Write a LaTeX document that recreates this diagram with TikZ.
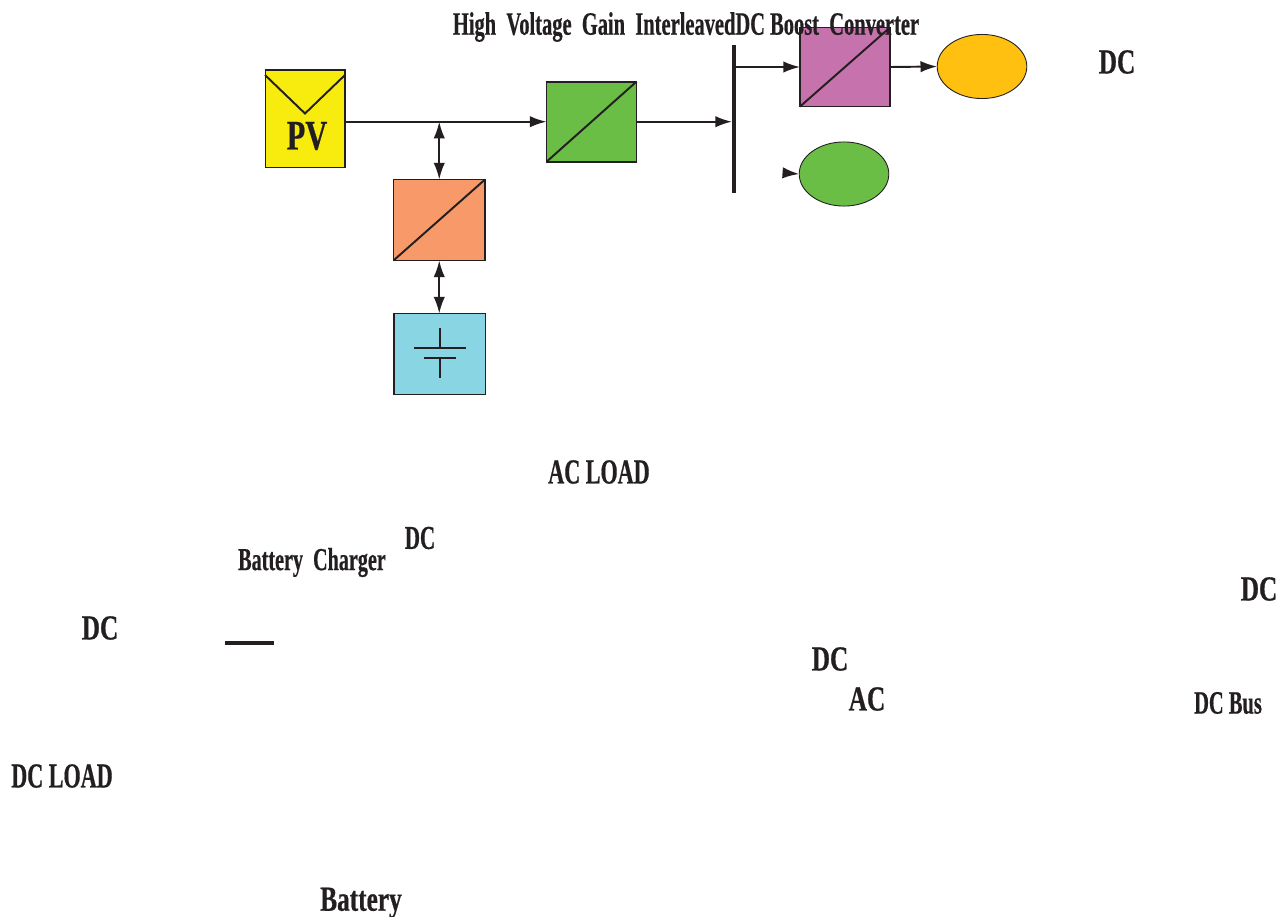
\documentclass[tikz,border=0pt]{standalone}
\usepackage{fontspec}
\setmainfont{Liberation Serif}[FakeStretch=0.72,BoldFeatures={FakeStretch=0.72,FakeBold=0.5}]
\newfontfamily\narrowface{Liberation Serif}[FakeStretch=0.63,BoldFeatures={FakeStretch=0.63,FakeBold=0.5}]
\usetikzlibrary{arrows.meta,shapes.geometric}
\definecolor{inkc}{HTML}{231F20}
\definecolor{pvyellow}{HTML}{F8EC0F}
\definecolor{boostgreen}{HTML}{6ABD45}
\definecolor{chgorange}{HTML}{F79969}
\definecolor{battblue}{HTML}{8AD5E3}
\definecolor{invpurple}{HTML}{C673AD}
\definecolor{dcamber}{HTML}{FFC010}
\tikzset{
  blockbox/.style={draw=inkc,line width=1.1pt,minimum width=#1,inner sep=0pt,outer sep=0pt},
  loadoval/.style={draw=inkc,line width=0.5pt,ellipse,minimum width=51pt,minimum height=36.5pt,inner sep=0pt,outer sep=0pt},
  lbl/.style={font=\fontsize{20}{22}\selectfont\bfseries,text=inkc,inner sep=0pt},
  narrowlbl/.style={font=\fontsize{#1}{22}\narrowface\selectfont\bfseries,text=inkc,inner sep=0pt},
  flow/.style={draw=inkc,line width=1.1pt,-{Latex[length=9.5pt,width=6.5pt]}},
  biflow/.style={draw=inkc,line width=1.1pt,{Latex[length=9.5pt,width=6.5pt]}-{Latex[length=9.5pt,width=6.5pt]}},
  thin line/.style={draw=inkc,line width=1.1pt}
}

\begin{document}
\begin{tikzpicture}[x=0.02cm,y=-0.02cm]
\useasboundingbox (0,0) rectangle (1281,916);

% blocks
\node[blockbox=45pt,minimum height=55.5pt,fill=pvyellow] (pv) at (305,118.75) {};
\node[blockbox=51.2pt,minimum height=45.6pt,fill=boostgreen] (boost) at (591.5,121.7) {};
\node[blockbox=52.1pt,minimum height=46.1pt,fill=chgorange] (charger) at (439.25,220) {};
\node[blockbox=52.1pt,minimum height=46.1pt,fill=battblue] (batt) at (439.75,354) {};
\node[blockbox=51.2pt,minimum height=45pt,fill=invpurple] (dcdc) at (845,67) {};
\node[fill=inkc,minimum width=2.3pt,minimum height=84.5pt,inner sep=0pt,outer sep=0pt] (bus) at (734,119) {};

% loads
\node[loadoval,fill=dcamber] (dcload) at (982,66.5) {};
\node[loadoval,fill=boostgreen] (acload) at (844,174) {};

% converter diagonals
\draw[thin line] (boost.south west) -- (boost.north east);
\draw[thin line] (charger.south west) -- (charger.north east);
\draw[thin line] (dcdc.south west) -- (dcdc.north east);

% pv panel
\draw[thin line] (265,75) -- (305,113.5) -- (345,75);
\node[lbl,font=\fontsize{24}{26}\selectfont\bfseries] (pvtext) at (307,136) {PV};

% battery symbol
\draw[thin line] (440,328) -- (440,348) (414,348) -- (466,348);
\draw[thin line] (424,358) -- (456,358) (440,358) -- (440,378);

% connectors
\coordinate (pvout) at (pv.east |- boost.west);
\coordinate (tap) at (charger.north |- boost.west);
\coordinate (acin) at (785,173);
\draw[flow] (pvout) -- (boost.west);
\draw[biflow] (tap) -- (charger.north);
\draw[biflow] (charger.south) -- (charger.south |- batt.north);
\draw[flow] (boost.east) -- (bus.west |- boost.east);
\draw[flow] (bus.east |- dcdc.west) -- (dcdc.west);
\draw[flow] (dcdc.east) -- (dcload.west);
\draw[flow] (acin) -- (acload.west);

% stray dash
\coordinate (dashl) at (225,643);
\coordinate (dashr) at (274,643);
\draw[draw=inkc,line width=2.3pt] (dashl) -- (dashr);

% labels
\node[narrowlbl=18.5] (title) at (686,27) {High\ \ Voltage\ \ Gain\ \ InterleavedDC Boost\ \ Converter};
\node[lbl] (dca) at (1117,62) {DC};
\node[narrowlbl=20] (acl) at (599,472) {AC LOAD};
\node[narrowlbl=18.2] (chg) at (312,562.5) {Battery\ \ Charger};
\node[narrowlbl=19] (dcb) at (420,538) {DC};
\node[lbl] (dcc) at (1259,589) {DC};
\node[lbl] (dcd) at (100,628) {DC};
\node[lbl] (dce) at (830,659) {DC};
\node[lbl] (acm) at (867,699) {AC};
\node[narrowlbl=18.5] (dcbus) at (1228,703) {DC Bus};
\node[narrowlbl=20] (dcl) at (62,776) {DC LOAD};
\node[lbl] (bat) at (361,903) {Battery};
\end{tikzpicture}
\end{document}
